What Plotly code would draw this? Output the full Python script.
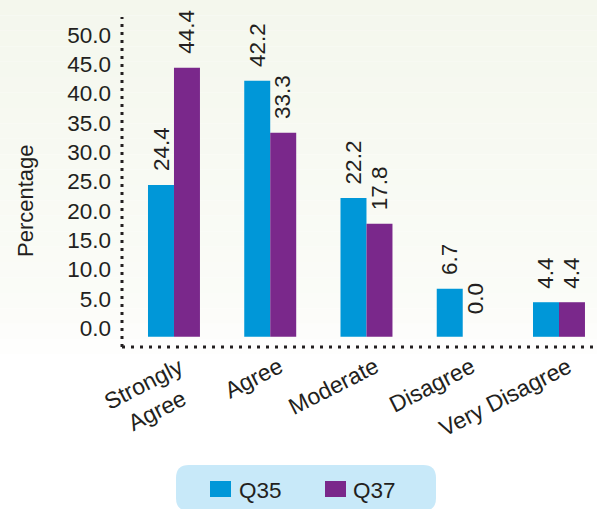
import plotly.graph_objects as go

# data
categories = ['Strongly Agree', 'Agree', 'Moderate', 'Disagree', 'Very Disagree']
tick_labels = ['Strongly<br>Agree', 'Agree', 'Moderate', 'Disagree', 'Very Disagree']
q35 = [24.4, 42.2, 22.2, 6.7, 4.4]
q37 = [44.4, 33.3, 17.8, 0.0, 4.4]
series_names = ['Q35', 'Q37']
tick_vals = [0, 5, 10, 15, 20, 25, 30, 35, 40, 45, 50]
tick_text = ['%.1f' % v for v in tick_vals]

BLUE = '#0097D8'
PURPLE = '#7A288B'
FONT = 'Liberation Sans, Arial, sans-serif'
TXT = '#231f20'

W, H = 597, 509
L, R, T, B = 122, 0, 17, 162
PW, PH = W - L - R, H - T - B

# bars in the original start a little below the zero line
BASE = -1.5


def px_x(px):
    return (px - L) / PW


def px_y(py):
    return (H - B - py) / PH


fig = go.Figure()

for name, vals, color in [(series_names[0], q35, BLUE), (series_names[1], q37, PURPLE)]:
    bases = [BASE if v > 0 else 0 for v in vals]
    fig.add_trace(go.Bar(
        x=categories, y=[v - b for v, b in zip(vals, bases)], base=bases,
        name=name, marker=dict(color=color, line=dict(width=0)),
        showlegend=False, hovertext=[str(v) for v in vals], hoverinfo='text+name',
    ))

annotations = []

# value labels, rotated, above each bar
for vals, shift in [(q35, -13), (q37, 13)]:
    for c, v in zip(categories, vals):
        annotations.append(dict(
            x=c, y=v, xref='x', yref='y', text='%.1f' % v, showarrow=False,
            textangle=-90, xanchor='center', yanchor='bottom',
            xshift=shift, yshift=12, font=dict(family=FONT, size=22.5, color=TXT),
        ))

# category labels (centered lines, rotated)
for c, lab in zip(categories, tick_labels):
    annotations.append(dict(
        x=c, y=px_y(350), xref='x', yref='paper', text=lab, showarrow=False,
        textangle=-27, xanchor='right', yanchor='top',
        xshift=30 if '<br>' in lab else 19, align='center',
        font=dict(family=FONT, size=23, color=TXT),
    ))

# y axis title
annotations.append(dict(
    x=px_x(25), y=px_y(201), xref='paper', yref='paper', text='Percentage',
    showarrow=False, textangle=-90, xanchor='center', yanchor='middle',
    font=dict(family=FONT, size=22, color=TXT),
))

# legend texts
for name, left in [(series_names[0], 237), (series_names[1], 351)]:
    annotations.append(dict(
        x=px_x(left), y=px_y(490), xref='paper', yref='paper', text=name,
        showarrow=False, xanchor='left', yanchor='middle',
        font=dict(family=FONT, size=22.5, color=TXT),
    ))

shapes = []

# soft background gradient
top_col = (244, 247, 237)
mid_col = (251, 252, 248)
n = 24
for i in range(n):
    y0, y1 = i * 370 / n, (i + 1) * 370 / n
    t = i / (n - 1)
    if t < 0.85:
        u = t / 0.85
        col = [round(a + (b - a) * u) for a, b in zip(top_col, mid_col)]
    else:
        u = (t - 0.85) / 0.15
        col = [round(a + (255 - a) * u) for a in mid_col]
    shapes.append(dict(
        type='rect', xref='paper', yref='paper', layer='below',
        x0=px_x(0), x1=px_x(W), y0=px_y(y1), y1=px_y(y0),
        fillcolor='rgb(%d,%d,%d)' % tuple(col), line=dict(width=0),
    ))

# dotted axes
shapes.append(dict(type='line', xref='paper', yref='paper',
                   x0=0, x1=0, y0=0, y1=1,
                   line=dict(color=TXT, width=3, dash='3px,5px')))
shapes.append(dict(type='line', xref='paper', yref='paper',
                   x0=0, x1=1, y0=0, y1=0,
                   line=dict(color=TXT, width=3, dash='3px,6px')))

# legend box with rounded corners
lx0, lx1, ly0, ly1, r = 176, 436, 465, 511, 13
path = ('M %f,%f L %f,%f Q %f,%f %f,%f L %f,%f Q %f,%f %f,%f '
        'L %f,%f Q %f,%f %f,%f L %f,%f Q %f,%f %f,%f Z') % (
    px_x(lx0 + r), px_y(ly0), px_x(lx1 - r), px_y(ly0),
    px_x(lx1), px_y(ly0), px_x(lx1), px_y(ly0 + r),
    px_x(lx1), px_y(ly1 - r),
    px_x(lx1), px_y(ly1), px_x(lx1 - r), px_y(ly1),
    px_x(lx0 + r), px_y(ly1),
    px_x(lx0), px_y(ly1), px_x(lx0), px_y(ly1 - r),
    px_x(lx0), px_y(ly0 + r),
    px_x(lx0), px_y(ly0), px_x(lx0 + r), px_y(ly0),
)
shapes.append(dict(type='path', xref='paper', yref='paper', path=path,
                   fillcolor='#C8E9F9', line=dict(width=0)))

for color, left in [(BLUE, 210), (PURPLE, 325)]:
    shapes.append(dict(type='rect', xref='paper', yref='paper',
                       x0=px_x(left), x1=px_x(left + 21), y0=px_y(497), y1=px_y(481),
                       fillcolor=color, line=dict(width=0)))

# pixel scale: 0 at y=328, about 5.86 px per unit
y_top = (328 - T) / 5.86
y_bot = -(H - B - 328) / 5.86

fig.update_layout(
    width=W, height=H,
    margin=dict(l=L, r=R, t=T, b=B, pad=0),
    paper_bgcolor='white', plot_bgcolor='rgba(0,0,0,0)',
    barmode='group', bargap=0.46, bargroupgap=0,
    showlegend=False,
    font=dict(family=FONT, color=TXT),
    xaxis=dict(
        range=[-0.54, 4.395], showgrid=False, zeroline=False, showline=False,
        ticks='', showticklabels=False, fixedrange=True,
    ),
    yaxis=dict(
        range=[y_bot, y_top], tickvals=tick_vals, ticktext=tick_text,
        showgrid=False, zeroline=False, showline=False, ticks='',
        ticklabelstandoff=10, tickfont=dict(family=FONT, size=22.5, color=TXT),
        fixedrange=True,
    ),
    annotations=annotations,
    shapes=shapes,
)

fig.write_html('out.html', config={'displayModeBar': False},
               post_script="document.body.style.margin='0px';")
